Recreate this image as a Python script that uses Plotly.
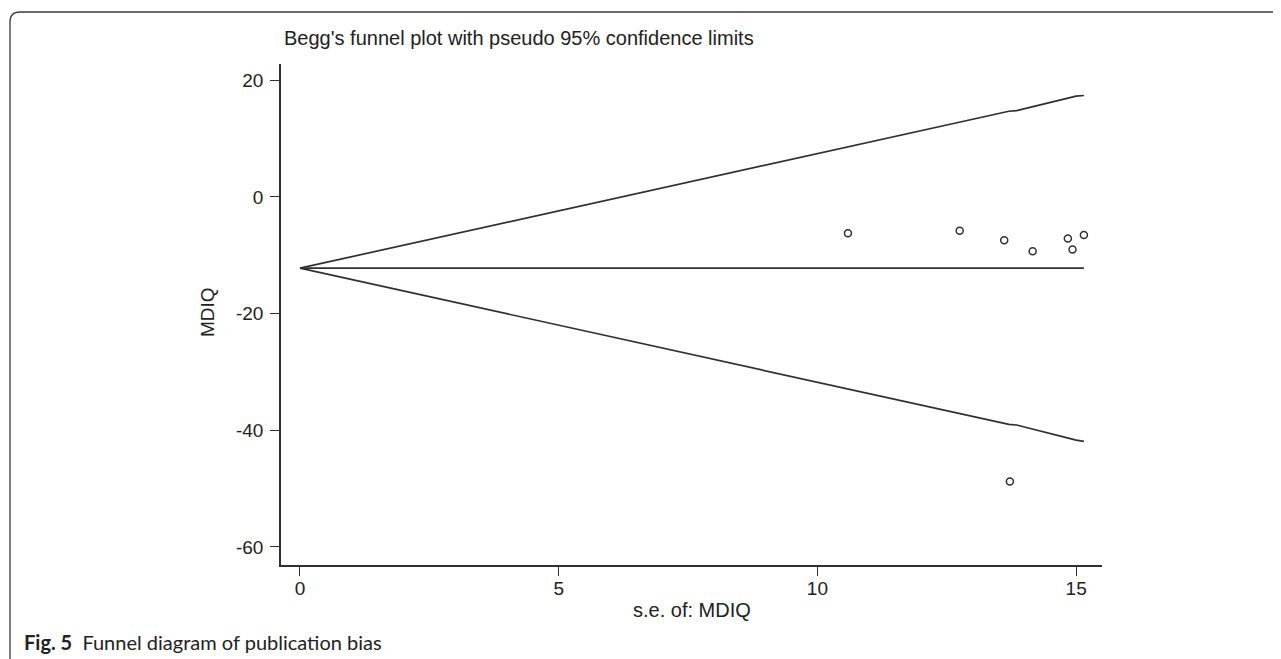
import plotly.graph_objects as go

# ---- data ----
study_se = [10.59, 12.75, 13.61, 14.16, 14.84, 14.93, 15.15, 13.72]
study_mdiq = [-6.2, -5.8, -7.4, -9.3, -7.1, -9.0, -6.5, -48.8]

funnel_se = [0.0, 13.70, 13.85, 15.00, 15.15]
funnel_upper = [-12.2, 14.7, 14.8, 17.3, 17.4]
funnel_lower = [-12.2, -39.0, -39.1, -41.7, -41.9]
funnel_mid = [-12.2, -12.2, -12.2, -12.2, -12.2]

x_ticks = [0, 5, 10, 15]
x_ticktext = ["0", "5", "10", "15"]
y_ticks = [-60, -40, -20, 0, 20]
y_ticktext = ["-60", "-40", "-20", "0", "20"]

title_text = "Begg's funnel plot with pseudo 95% confidence limits"
x_title = "s.e. of: MDIQ"
y_title = "MDIQ"
caption_bold = "Fig. 5"
caption_text = "Funnel diagram of publication bias"

# ---- layout geometry (reference page pixels; page body has an 8px margin) ----
OFF = 8
W, H = 1281 - OFF, 659 - OFF
L, R, T, B = 281, 1102, 64, 565          # plot area in page pixels
pw, ph = R - L, B - T


def px(x):
    return (x - L) / pw


def py(y):
    return (B - y) / ph


line_col = "#303030"
fig = go.Figure()

for ys in (funnel_upper, funnel_mid, funnel_lower):
    fig.add_trace(go.Scatter(x=funnel_se, y=ys, mode="lines",
                             line=dict(color=line_col, width=1.7),
                             hoverinfo="skip", showlegend=False))

fig.add_trace(go.Scatter(x=study_se, y=study_mdiq, mode="markers",
                         marker=dict(symbol="circle-open", size=7,
                                     color=line_col,
                                     line=dict(color=line_col, width=1.5)),
                         showlegend=False))

tickfont = dict(family="Liberation Sans, Arial", size=19, color="#222")
axis_common = dict(showgrid=False, zeroline=False, showline=True,
                   linecolor=line_col, linewidth=1.6, ticks="outside",
                   tickwidth=1.3, tickcolor=line_col, tickfont=tickfont)

fig.update_layout(
    width=W, height=H,
    margin=dict(l=L - OFF, r=(W + OFF) - R, t=T - OFF, b=(H + OFF) - B, pad=0),
    paper_bgcolor="white", plot_bgcolor="white",
    xaxis=dict(range=[-0.367, 15.5], tickvals=x_ticks, ticktext=x_ticktext,
               ticklen=9, ticklabelstandoff=-4, **axis_common),
    yaxis=dict(range=[-63.1, 22.8], tickvals=y_ticks, ticktext=y_ticktext,
               ticklen=9, ticklabelstandoff=3, **axis_common),
    showlegend=False,
)

font_main = dict(family="Liberation Sans, Arial", size=20, color="#222")

fig.add_annotation(text=title_text, xref="paper", yref="paper",
                   x=px(282), y=py(38), xanchor="left", yanchor="middle",
                   showarrow=False, font=font_main)
fig.add_annotation(text=x_title, xref="paper", yref="paper",
                   x=px(692), y=py(610), xanchor="center", yanchor="middle",
                   showarrow=False, font=font_main)
fig.add_annotation(text=y_title, xref="paper", yref="paper",
                   x=px(207), y=py(312), xanchor="center", yanchor="middle",
                   textangle=-90, showarrow=False,
                   font=dict(family="Liberation Sans, Arial", size=19, color="#222"))
fig.add_annotation(text="<b>" + caption_bold + "</b>&nbsp;&nbsp;" + caption_text,
                   xref="paper", yref="paper",
                   x=px(22), y=py(642), xanchor="left", yanchor="middle",
                   showarrow=False,
                   font=dict(family="Lato, Open Sans", size=20, color="#222"))

# frame with rounded top-left corner
path = (f"M {px(10)},{py(668)} L {px(10)},{py(22)} "
        f"Q {px(10)},{py(12)} {px(20)},{py(12)} L {px(1290)},{py(12)}")
fig.add_shape(type="path", path=path, xref="paper", yref="paper",
              line=dict(color="#3a3a3a", width=1.3))

fig.write_html("out.html")
